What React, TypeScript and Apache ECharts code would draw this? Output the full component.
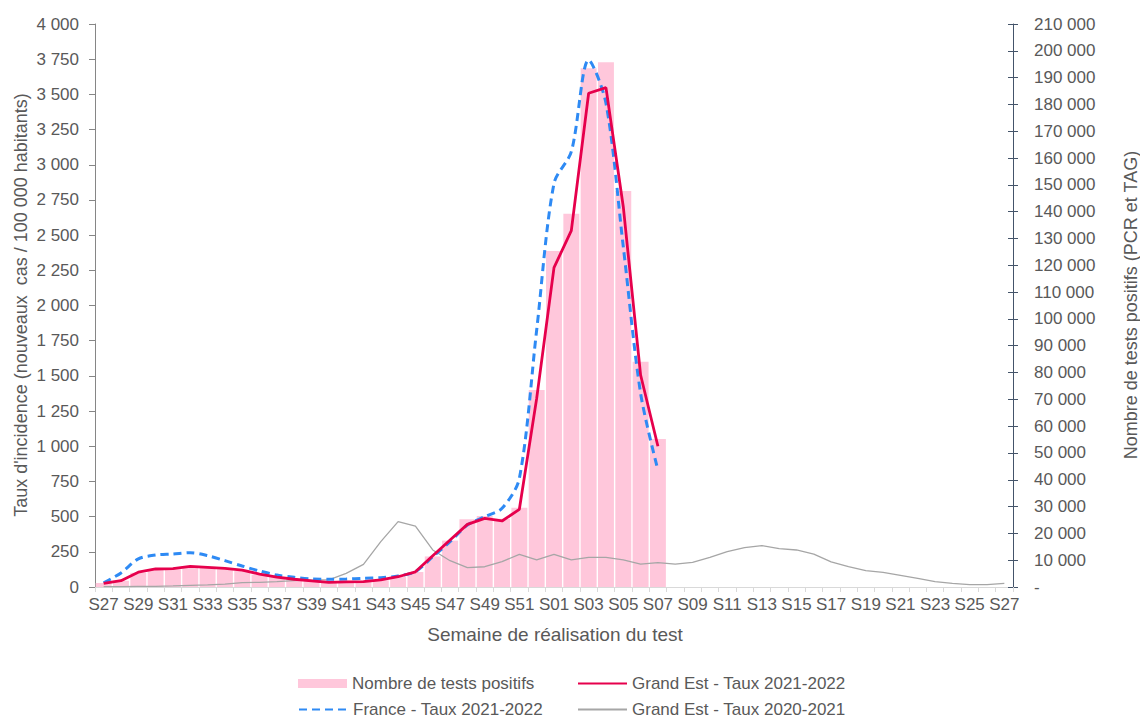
import React, { useEffect, useRef } from 'react';
import * as echarts from 'echarts';

const weeks = [
  'S27', 'S28', 'S29', 'S30', 'S31', 'S32', 'S33', 'S34', 'S35', 'S36', 'S37', 'S38', 'S39',
  'S40', 'S41', 'S42', 'S43', 'S44', 'S45', 'S46', 'S47', 'S48', 'S49', 'S50', 'S51', 'S52',
  'S01', 'S02', 'S03', 'S04', 'S05', 'S06', 'S07', 'S08', 'S09', 'S10', 'S11', 'S12', 'S13',
  'S14', 'S15', 'S16', 'S17', 'S18', 'S19', 'S20', 'S21', 'S22', 'S23', 'S24', 'S25', 'S26', 'S27',
];

// Nombre de tests positifs (axe de droite)
const positiveTests = [
  1500, 2300, 5300, 6600, 6600, 7600, 7100, 6600, 6000, 4600, 3700, 3000, 2300,
  1700, 1600, 1900, 2500, 3700, 5600, 11400, 17300, 25300, 26500, 25500, 29600, 73500,
  125300, 139200, 193500, 195700, 147700, 84000, 55200,
];

// Grand Est - Taux 2021-2022 (axe de gauche)
const grandEst2122 = [
  25, 45, 105, 128, 130, 147, 140, 132, 120, 92, 70, 55, 43,
  33, 36, 38, 50, 73, 108, 222, 334, 445, 488, 469, 552, 1340,
  2269, 2532, 3508, 3548, 2702, 1506, 1000,
];

// France - Taux 2021-2022
const france2122 = [
  30, 100, 200, 227, 234, 244, 223, 187, 149, 114, 85, 69, 57,
  55, 57, 62, 66, 78, 109, 215, 322, 440, 500, 559, 772, 1826,
  2868, 3093, 3744, 3437, 2418, 1376, 831,
];

// Grand Est - Taux 2020-2021
const grandEst2021 = [
  2, 3, 4, 5, 8, 12, 15, 21, 31, 33, 38, 45, 50,
  50, 97, 161, 322, 464, 433, 263, 187, 137, 144, 180, 232, 192,
  232, 192, 211, 211, 192, 163, 173, 163, 175, 211, 251, 280, 294,
  272, 263, 234, 178, 144, 116, 104, 83, 62, 38, 26, 17, 17, 26,
];

const FONT = '"Liberation Sans", Arial, sans-serif';
const TXT = '#595959';

function fmt(v: number): string {
  return String(v).replace(/\B(?=(\d{3})+(?!\d))/g, ' ');
}

export default function App() {
  const ref = useRef<HTMLDivElement>(null);

  useEffect(() => {
    const chart = echarts.init(ref.current!, null, { renderer: 'svg' });
    const legendText = { fontSize: 17, color: TXT, fontFamily: FONT };
    const lineLegend = {
      padding: 0,
      itemWidth: 49,
      itemHeight: 9,
      itemStyle: { opacity: 0 },
      textStyle: legendText,
    };
    chart.setOption({
      animation: false,
      backgroundColor: '#ffffff',
      textStyle: { fontFamily: FONT },
      grid: { left: 95, right: 127, top: 24, bottom: 133 },
      xAxis: {
        type: 'category',
        data: weeks,
        boundaryGap: true,
        axisLine: { show: true, lineStyle: { color: '#D9D9D9', width: 1 } },
        axisTick: { show: true, interval: 0, length: 5, alignWithLabel: false, lineStyle: { color: '#D9D9D9' } },
        axisLabel: { interval: 1, color: TXT, fontSize: 17, margin: 9, fontFamily: FONT },
        splitLine: { show: false },
      },
      yAxis: [
        {
          type: 'value',
          position: 'left',
          min: 0,
          max: 4000,
          interval: 250,
          axisLine: { show: true, lineStyle: { color: '#868686' } },
          axisTick: { show: true, length: 6, lineStyle: { color: '#868686' } },
          axisLabel: { color: TXT, fontSize: 17, margin: 16, fontFamily: FONT, formatter: (v: number) => fmt(v) },
          splitLine: { show: false },
        },
        {
          type: 'value',
          position: 'right',
          min: 0,
          max: 210000,
          interval: 10000,
          axisLine: { show: true, lineStyle: { color: '#44546A' } },
          axisTick: { show: true, length: 5, lineStyle: { color: '#44546A' } },
          axisLabel: {
            color: TXT, fontSize: 17, margin: 21, fontFamily: FONT,
            formatter: (v: number) => (v === 0 ? '-' : fmt(v)),
          },
          splitLine: { show: false },
        },
        {
          type: 'value',
          position: 'right',
          min: 0,
          max: 210000,
          interval: 10000,
          axisLine: { show: false },
          axisTick: { show: true, inside: true, length: 5, lineStyle: { color: '#44546A' } },
          axisLabel: { show: false },
          splitLine: { show: false },
        },
      ],
      legend: [
        {
          data: ['Nombre de tests positifs'], left: 298, top: 675, padding: 0,
          itemWidth: 49, itemHeight: 9, icon: 'rect', textStyle: legendText,
        },
        { ...lineLegend, data: ['Grand Est - Taux 2021-2022'], left: 577, top: 675 },
        { ...lineLegend, data: ['France - Taux 2021-2022'], left: 298, top: 701 },
        { ...lineLegend, data: ['Grand Est - Taux 2020-2021'], left: 577, top: 701 },
      ],
      graphic: [
        {
          type: 'text', x: 21, y: 305, rotation: Math.PI / 2, silent: true,
          style: {
            text: "Taux d'incidence (nouveaux  cas / 100 000 habitants)",
            fontSize: 18, fontFamily: FONT, fill: TXT, align: 'center', verticalAlign: 'middle',
          },
        },
        {
          type: 'text', x: 1131, y: 305, rotation: Math.PI / 2, silent: true,
          style: {
            text: 'Nombre de tests positifs (PCR et TAG)',
            fontSize: 18, fontFamily: FONT, fill: TXT, align: 'center', verticalAlign: 'middle',
          },
        },
        {
          type: 'text', x: 555, y: 634, silent: true,
          style: {
            text: 'Semaine de réalisation du test',
            fontSize: 19, fontFamily: FONT, fill: TXT, align: 'center', verticalAlign: 'middle',
          },
        },
      ],
      series: [
        {
          name: 'Nombre de tests positifs',
          type: 'bar',
          yAxisIndex: 1,
          data: positiveTests,
          barCategoryGap: '8%',
          itemStyle: { color: '#FFC7DB' },
          z: 1,
        },
        {
          name: 'Grand Est - Taux 2020-2021',
          type: 'line',
          yAxisIndex: 0,
          data: grandEst2021,
          symbol: 'none',
          color: '#A6A6A6',
          lineStyle: { color: '#A6A6A6', width: 1.3 },
          z: 2,
        },
        {
          name: 'France - Taux 2021-2022',
          type: 'line',
          yAxisIndex: 0,
          data: france2122,
          symbol: 'none',
          smooth: 0.3,
          color: '#2E8AF4',
          lineStyle: { color: '#2E8AF4', width: 3, type: [8, 5] },
          z: 3,
        },
        {
          name: 'Grand Est - Taux 2021-2022',
          type: 'line',
          yAxisIndex: 0,
          data: grandEst2122,
          symbol: 'none',
          color: '#E6004C',
          lineStyle: { color: '#E6004C', width: 2.8 },
          z: 4,
        },
      ],
    });
    return () => chart.dispose();
  }, []);

  return (
    <div
      ref={ref}
      style={{ position: 'fixed', left: 0, top: 0, width: 1140, height: 720, background: '#ffffff' }}
    />
  );
}
